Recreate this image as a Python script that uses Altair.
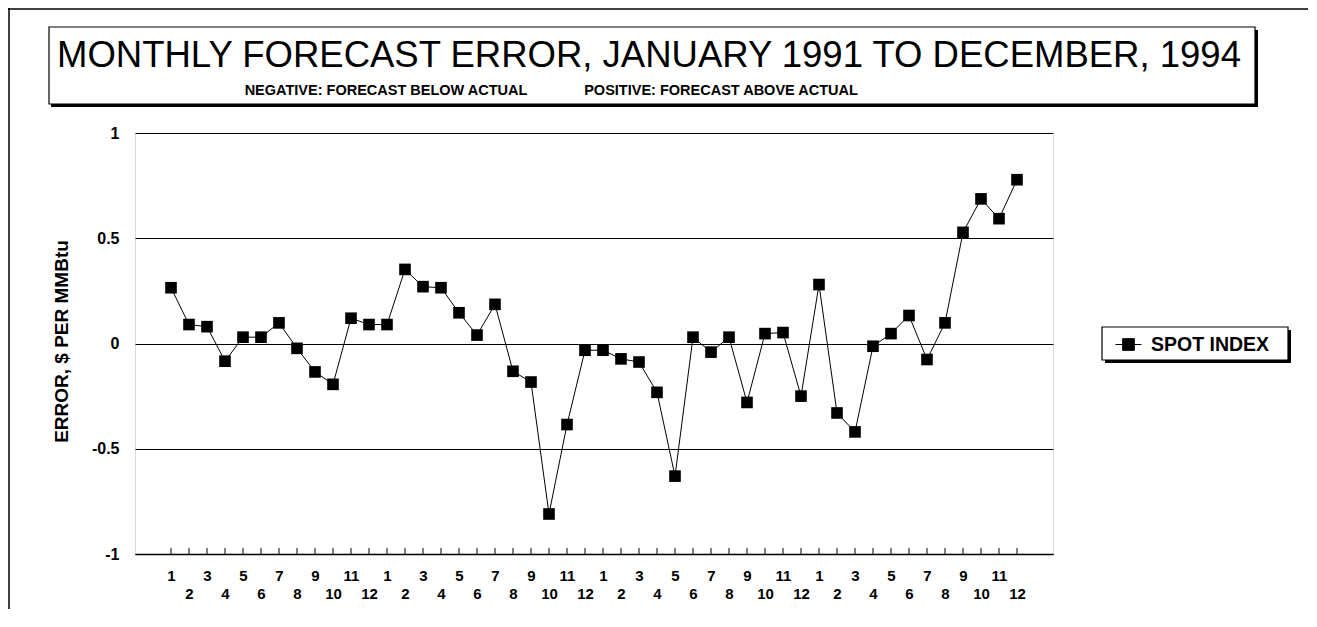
import json
import altair as alt
import pandas as pd

# ---------------- data ----------------
years = [1991, 1992, 1993, 1994]
month_labels = [1, 2, 3, 4, 5, 6, 7, 8, 9, 10, 11, 12] * 4
spot_index_error = [
    0.265, 0.09, 0.08, -0.084, 0.03, 0.03, 0.098, -0.023, -0.135, -0.194, 0.12, 0.09,
    0.09, 0.352, 0.27, 0.265, 0.146, 0.04, 0.186, -0.132, -0.183, -0.81, -0.385, -0.032,
    -0.032, -0.073, -0.088, -0.232, -0.63, 0.03, -0.041, 0.03, -0.28, 0.047, 0.052, -0.25,
    0.28, -0.33, -0.42, -0.013, 0.047, 0.133, -0.076, 0.098, 0.528, 0.687, 0.593, 0.778,
]
series_name = "SPOT INDEX"
y_ticks = [-1, -0.5, 0, 0.5, 1]
title_text = "MONTHLY FORECAST ERROR, JANUARY 1991 TO DECEMBER, 1994"
sub_left = "NEGATIVE: FORECAST BELOW ACTUAL"
sub_right = "POSITIVE: FORECAST ABOVE ACTUAL"
y_title = "ERROR, $ PER MMBtu"

idx = list(range(1, len(spot_index_error) + 1))
df = pd.DataFrame({"idx": idx, "month": month_labels, "error": spot_index_error,
                   "series": [series_name] * len(idx)})

FONT = "Liberation Sans"
W, H = 918, 421

labels_js = json.dumps(month_labels)
label_expr = (
    f"(datum.value % 2 == 1) ? '' + {labels_js}[datum.value - 1] "
    f": ['', '' + {labels_js}[datum.value - 1]]"
)

xscale = alt.Scale(domain=[-1, 50], nice=False, zero=False)
yscale = alt.Scale(domain=[-1, 1], nice=False, zero=False)

x_enc = alt.X("idx:Q", scale=xscale, axis=alt.Axis(
    values=idx, labelExpr=label_expr, ticks=False, grid=False, title=None,
    labelFont=FONT, labelFontWeight="bold", labelFontSize=15, labelColor="black",
    labelPadding=14, labelAngle=0, labelAlign="center", labelBaseline="top",
    labelLineHeight=18, labelOverlap=False, labelFlush=False, labelBound=False,
    domainColor="black", domainWidth=1.5))
y_enc = alt.Y("error:Q", scale=yscale, axis=alt.Axis(
    values=y_ticks, labelExpr="'' + datum.value", ticks=False, grid=True,
    gridColor="black", gridWidth=1, gridOpacity=1, domain=False,
    labelFont=FONT, labelFontWeight="bold", labelFontSize=16, labelColor="black",
    labelPadding=16, labelOverlap=False, title=y_title, titleFont=FONT,
    titleFontWeight="bold", titleFontSize=19, titleColor="black", titleX=-74,
    titleY=208, titleAngle=-90, titleAlign="center", titleBaseline="middle"))

one = alt.Data(values=[{"k": 1}])

# outer page frame
frame_top = alt.Chart(one).mark_rule(color="black", strokeWidth=1.5).encode(
    x=alt.value(-127), x2=alt.value(1180), y=alt.value(-124))
frame_left = alt.Chart(one).mark_rule(color="black", strokeWidth=1.5).encode(
    x=alt.value(-126), y=alt.value(-125), y2=alt.value(490))

# title box with drop shadow
title_shadow = alt.Chart(one).mark_rect(color="black").encode(
    x=alt.value(-84), x2=alt.value(1123), y=alt.value(-103), y2=alt.value(-26))
title_box = alt.Chart(one).mark_rect(fill="white", stroke="black", strokeWidth=1.2).encode(
    x=alt.value(-86), x2=alt.value(1120), y=alt.value(-106), y2=alt.value(-29))
title_mark = alt.Chart(one).mark_text(font=FONT, fontSize=36.5, align="center",
                                      baseline="alphabetic", color="black").encode(
    x=alt.value(514), y=alt.value(-66), text=alt.value(title_text))
sub_l = alt.Chart(one).mark_text(font=FONT, fontSize=14.5, fontWeight="bold", align="center",
                                 baseline="alphabetic", color="black").encode(
    x=alt.value(251), y=alt.value(-38), text=alt.value(sub_left))
sub_r = alt.Chart(one).mark_text(font=FONT, fontSize=14.5, fontWeight="bold", align="center",
                                 baseline="alphabetic", color="black").encode(
    x=alt.value(586), y=alt.value(-38), text=alt.value(sub_right))

# legend frame with drop shadow (legend itself drawn by Vega-Lite)
legend_shadow = alt.Chart(one).mark_rect(color="black").encode(
    x=alt.value(970), x2=alt.value(1156), y=alt.value(197), y2=alt.value(230))
legend_box = alt.Chart(one).mark_rect(fill="white", stroke="black", strokeWidth=1.2).encode(
    x=alt.value(967), x2=alt.value(1153), y=alt.value(194), y2=alt.value(227))

base = alt.Chart(df)
color_enc = alt.Color("series:N", scale=alt.Scale(domain=[series_name], range=["black"]),
                      legend=alt.Legend(
                          orient="none", legendX=980, legendY=198, title=None,
                          padding=0, labelFont=FONT, labelFontWeight="bold",
                          labelFontSize=19.5, labelColor="black", labelOffset=9,
                          symbolType="M-1,0H1M-0.45,-0.45H0.45V0.45H-0.45Z",
                          symbolSize=676, symbolFillColor="black",
                          symbolStrokeColor="black", symbolStrokeWidth=1))

line = base.mark_line(color="black", strokeWidth=1).encode(x=x_enc, y=y_enc)
points = base.mark_point(shape="square", filled=True, size=135, opacity=1).encode(
    x=x_enc, y=y_enc, color=color_enc)
ticks = base.mark_rule(color="black", strokeWidth=1).encode(
    x=x_enc, y=alt.value(H - 6), y2=alt.value(H))

chart = alt.layer(
    frame_top, frame_left, title_shadow, title_box, title_mark, sub_l, sub_r,
    legend_shadow, legend_box, line, ticks, points
).properties(
    width=W, height=H,
    autosize=alt.AutoSizeParams(type="none"),
    padding={"left": 127, "top": 125, "right": 255, "bottom": 55},
).configure_view(stroke="black", strokeWidth=1.5).configure(background="white")

chart.save("out.html", embed_options={"renderer": "svg", "actions": False})
